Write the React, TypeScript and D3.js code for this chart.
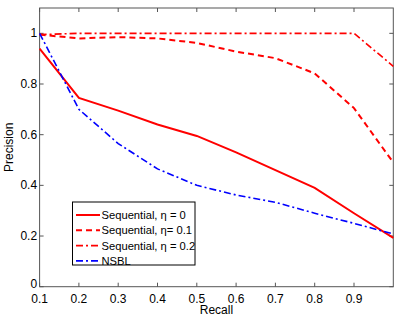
import React, { useRef, useEffect } from 'react';
import * as d3 from 'd3';

const recall = [0.1, 0.2, 0.3, 0.4, 0.5, 0.6, 0.7, 0.8, 0.9, 1.0];
const seqEta0 = [0.94, 0.745, 0.695, 0.64, 0.595, 0.53, 0.46, 0.39, 0.29, 0.193];
const seqEta01 = [0.995, 0.98, 0.985, 0.98, 0.962, 0.928, 0.902, 0.842, 0.705, 0.49];
const seqEta02 = [0.995, 1.0, 1.0, 1.0, 1.0, 1.0, 1.0, 1.0, 1.0, 0.87];
const nsbl = [1.0, 0.7, 0.565, 0.465, 0.4, 0.362, 0.333, 0.29, 0.25, 0.208];

const xTicks = [0.1, 0.2, 0.3, 0.4, 0.5, 0.6, 0.7, 0.8, 0.9];
const yTicks = [0, 0.2, 0.4, 0.6, 0.8, 1];

const seriesList = [
  { name: 'Sequential, \u03b7 = 0', values: seqEta0, color: '#ff0000', dash: '', width: 2 },
  { name: 'Sequential, \u03b7= 0.1', values: seqEta01, color: '#ff0000', dash: '6,4', width: 2 },
  { name: 'Sequential, \u03b7 = 0.2', values: seqEta02, color: '#ff0000', dash: '7,3,2,3', width: 1.6 },
  { name: 'NSBL', values: nsbl, color: '#0000ff', dash: '7,3,2,3', width: 1.6 },
];

const App: React.FC = () => {
  const svgRef = useRef<SVGSVGElement | null>(null);

  useEffect(() => {
    if (!svgRef.current) return;
    const W = 399;
    const H = 319;
    const left = 39.6;
    const right = 393.3;
    const top = 8;
    const bottom = 286.7;

    const svg = d3.select(svgRef.current);
    svg.selectAll('*').remove();
    svg.attr('width', W).attr('height', H).style('background', '#fff');

    const x = d3.scaleLinear().domain([0.1, 1.0]).range([left, right]);
    const y = d3.scaleLinear().domain([0, 1.1]).range([bottom, top]);

    const font = 'Liberation Sans, Arial, sans-serif';
    const axisColor = '#555';

    // frame
    svg
      .append('rect')
      .attr('x', left)
      .attr('y', top)
      .attr('width', right - left)
      .attr('height', bottom - top)
      .attr('fill', 'none')
      .attr('stroke', axisColor)
      .attr('stroke-width', 1);

    const tl = 4;
    // x ticks (bottom and top, inward)
    xTicks.forEach((t) => {
      const px = x(t);
      svg.append('line').attr('x1', px).attr('x2', px).attr('y1', bottom).attr('y2', bottom - tl).attr('stroke', axisColor);
      svg.append('line').attr('x1', px).attr('x2', px).attr('y1', top).attr('y2', top + tl).attr('stroke', axisColor);
      svg
        .append('text')
        .attr('x', px)
        .attr('y', 302.5)
        .attr('text-anchor', 'middle')
        .attr('font-family', font)
        .attr('font-size', 12)
        .text(d3.format('.1f')(t));
    });

    yTicks.forEach((t) => {
      const py = y(t);
      svg.append('line').attr('x1', left).attr('x2', left + tl).attr('y1', py).attr('y2', py).attr('stroke', axisColor);
      svg.append('line').attr('x1', right).attr('x2', right - tl).attr('y1', py).attr('y2', py).attr('stroke', axisColor);
      svg
        .append('text')
        .attr('x', left - 2.5)
        .attr('y', t === 0 ? py + 1.5 : py + 4)
        .attr('text-anchor', 'end')
        .attr('font-family', font)
        .attr('font-size', 12)
        .text(t === 0 || t === 1 ? String(t) : d3.format('.1f')(t));
    });

    // axis labels
    svg
      .append('text')
      .attr('x', (left + right) / 2)
      .attr('y', 314)
      .attr('text-anchor', 'middle')
      .attr('font-family', font)
      .attr('font-size', 12)
      .text('Recall');
    svg
      .append('text')
      .attr('transform', `translate(13, ${(top + bottom) / 2}) rotate(-90)`)
      .attr('text-anchor', 'middle')
      .attr('font-family', font)
      .attr('font-size', 12)
      .text('Precision');

    const line = d3
      .line<number>()
      .x((_, i) => x(recall[i]))
      .y((d) => y(d));

    const plot = svg.append('g');
    seriesList.forEach((s) => {
      plot
        .append('path')
        .attr('d', line(s.values))
        .attr('fill', 'none')
        .attr('stroke', s.color)
        .attr('stroke-width', s.width)
        .attr('stroke-dasharray', s.dash || null);
    });

    // legend
    const lg = svg.append('g');
    lg.append('rect')
      .attr('x', 72.5)
      .attr('y', 202)
      .attr('width', 122.5)
      .attr('height', 63)
      .attr('fill', '#fff')
      .attr('stroke', '#000')
      .attr('stroke-width', 1);
    seriesList.forEach((s, i) => {
      const ly = 215 + i * 15.3;
      lg.append('line')
        .attr('x1', 76)
        .attr('x2', 100)
        .attr('y1', ly)
        .attr('y2', ly)
        .attr('stroke', s.color)
        .attr('stroke-width', s.width)
        .attr('stroke-dasharray', s.dash || null);
      lg.append('text')
        .attr('x', 101.5)
        .attr('y', ly + 4)
        .attr('font-family', font)
        .attr('font-size', 11.2)
        .text(s.name);
    });
  }, []);

  return <svg ref={svgRef} style={{ position: 'absolute', left: 0, top: 0 }} />;
};

export default App;
